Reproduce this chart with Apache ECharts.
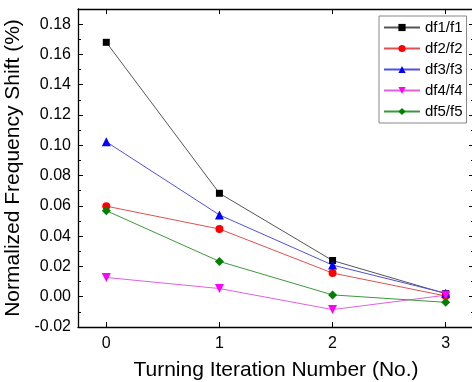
<!DOCTYPE html>
<html>
<head>
<meta charset="utf-8">
<script src="https://cdn.jsdelivr.net/npm/echarts@6/dist/echarts.min.js"></script>
<style>
  html, body { margin: 0; padding: 0; background: #fff; }
  #chart { width: 472px; height: 382px; }
</style>
</head>
<body>
<div id="chart"></div>
<script>
const iterations = [0, 1, 2, 3];
const df1 = [0.168, 0.0683, 0.0239, 0.0020];
const df2 = [0.0598, 0.0447, 0.0156, 0.0005];
const df3 = [0.1023, 0.0540, 0.0209, 0.0023];
const df4 = [0.0127, 0.0054, -0.0085, 0.0010];
const df5 = [0.0568, 0.0233, 0.0012, -0.0037];
const xTicks = [0, 1, 2, 3];
const yMajor = [-0.02, 0, 0.02, 0.04, 0.06, 0.08, 0.1, 0.12, 0.14, 0.16, 0.18];
const yMinor = [-0.01, 0.01, 0.03, 0.05, 0.07, 0.09, 0.11, 0.13, 0.15, 0.17];

const FONT = 'Liberation Sans, Arial, sans-serif';
const pair = (arr) => iterations.map((x, i) => [x, arr[i]]);

const seriesDefs = [
  { name: 'df1/f1', data: df1, symbol: 'rect', size: 7, color: '#000000', line: '#555555' },
  { name: 'df2/f2', data: df2, symbol: 'circle', size: 8, color: '#ff0000', line: '#e05050' },
  { name: 'df3/f3', data: df3, symbol: 'triangle', size: 9, color: '#0000ff', line: '#5050e0' },
  { name: 'df4/f4', data: df4, symbol: 'path://M0,0 L10,0 L5,9 Z', size: 9, color: '#ff00ff', line: '#e060e0' },
  { name: 'df5/f5', data: df5, symbol: 'diamond', size: 9, color: '#007f00', line: '#3a9a3a' },
];

const axisLine = { show: true, onZero: false, lineStyle: { color: '#000', width: 1.3 } };

const chart = echarts.init(document.getElementById('chart'));
chart.setOption({
  animation: false,
  grid: { left: 78, top: 9, right: -2, bottom: 55, containLabel: false, outerBoundsMode: 'none' },
  legend: {
    orient: 'vertical',
    left: 379,
    top: 16,
    itemWidth: 36,
    itemHeight: 9,
    itemGap: 6,
    padding: [4, 4, 4, 4],
    borderColor: '#888',
    borderWidth: 1,
    textStyle: { fontFamily: FONT, fontSize: 15, color: '#000', lineHeight: 15 },
    data: seriesDefs.map((s) => s.name),
  },
  xAxis: [
    {
      type: 'value', min: -0.25, max: 3.25, position: 'bottom',
      axisLine,
      axisTick: { inside: true, length: 5, customValues: xTicks, lineStyle: { color: '#000' } },
      axisLabel: { customValues: xTicks, fontFamily: FONT, fontSize: 16, color: '#000', margin: 9 },
      splitLine: { show: false },
      name: 'Turning Iteration Number (No.)',
      nameLocation: 'middle',
      nameGap: 33,
      nameTextStyle: { fontFamily: FONT, fontSize: 21, color: '#000' },
    },
    {
      type: 'value', min: -0.25, max: 3.25, position: 'top',
      axisLine,
      axisTick: { inside: true, length: 5, customValues: xTicks, lineStyle: { color: '#000' } },
      axisLabel: { show: false },
      splitLine: { show: false },
    },
  ],
  yAxis: [
    {
      type: 'value', min: -0.02, max: 0.19, position: 'left',
      axisLine,
      axisTick: { inside: true, length: 5, customValues: yMajor, lineStyle: { color: '#000' } },
      axisLabel: {
        customValues: yMajor, fontFamily: FONT, fontSize: 16, color: '#000', margin: 7,
        formatter: (v) => v.toFixed(2),
      },
      splitLine: { show: false },
      name: 'Normalized Frequency Shift (%)',
      nameLocation: 'middle',
      nameGap: 49,
      nameTextStyle: { fontFamily: FONT, fontSize: 21, color: '#000' },
    },
    {
      type: 'value', min: -0.02, max: 0.19, position: 'left',
      axisLine: { show: false, onZero: false },
      axisTick: { inside: true, length: 3, customValues: yMinor, lineStyle: { color: '#000' } },
      axisLabel: { show: false },
      splitLine: { show: false },
    },
    {
      type: 'value', min: -0.02, max: 0.19, position: 'right',
      axisLine,
      axisTick: { inside: true, length: 5, customValues: yMajor, lineStyle: { color: '#000' } },
      axisLabel: { show: false },
      splitLine: { show: false },
    },
    {
      type: 'value', min: -0.02, max: 0.19, position: 'right',
      axisLine: { show: false, onZero: false },
      axisTick: { inside: true, length: 3, customValues: yMinor, lineStyle: { color: '#000' } },
      axisLabel: { show: false },
      splitLine: { show: false },
    },
  ],
  series: seriesDefs.map((s) => ({
    name: s.name,
    type: 'line',
    data: pair(s.data),
    symbol: s.symbol,
    symbolSize: s.size,
    itemStyle: { color: s.color },
    lineStyle: { color: s.line, width: 1 },
    z: 3,
  })),
});
</script>
</body>
</html>
